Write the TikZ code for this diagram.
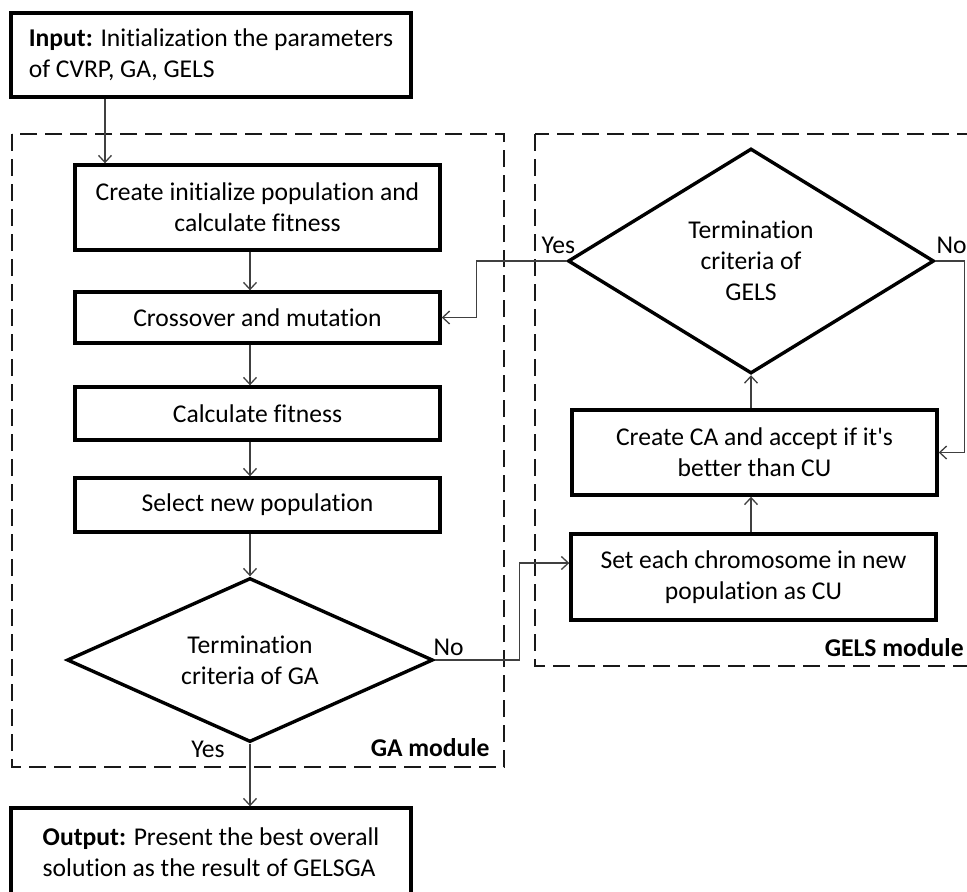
\documentclass[tikz,border=0pt]{standalone}
\usepackage{fontspec}
\setmainfont{Carlito}[Ligatures=NoCommon]
\usetikzlibrary{arrows.meta,positioning,shapes.geometric,calc}

\begin{document}
\begin{tikzpicture}[x=0.5pt, y=-0.5pt,
  %% ── Node styles ──────────────────────────────────────────────────────────
  %% one unit = one pixel of the 967 x 891 frame, y runs downwards
  box/.style={draw=black, line width=1.7pt, minimum width=182.5pt,
              inner sep=0pt, align=center, font=\fontsize{12.8}{15.5}\selectfont},
  iobox/.style={box, minimum width=200pt, minimum height=42pt, align=left},
  dec/.style={draw=black, diamond, line width=1.7pt, inner sep=0pt,
              align=center, font=\fontsize{12.8}{15.5}\selectfont},
  lbl/.style={font=\fontsize{12.8}{14}\selectfont, inner sep=0pt},
  modlbl/.style={font=\fontsize{12.8}{14}\selectfont\bfseries, inner sep=0pt},
  %% ── Frame and arrow styles ───────────────────────────────────────────────
  module/.style={draw=black!90, line width=1.3pt, dash pattern=on 8.5pt off 4pt},
  arr/.style={-{Straight Barb[length=3.5pt,width=6.5pt]}, line width=0.65pt, black!75}
]
\useasboundingbox (0,0) rectangle (967,891);

%% ── Module frames (manually bounded) ────────────────────────────────────────
\draw[module] (12,134) rectangle (504,767);
\draw[module] (535,134) rectangle (985,666);

%% ── Input / Output ──────────────────────────────────────────────────────────
\node[iobox] (inp) at (211,55) {\textbf{Input:} Initialization the parameters\\of CVRP, GA, GELS};
\node[iobox, minimum height=44pt] (out) at (211,852) {\textbf{Output:} Present the best overall\\solution as the result of GELSGA};

%% ── GA module ───────────────────────────────────────────────────────────────
\node[box, minimum height=42.5pt] (create) at (257.5,207.5) {Create initialize population and\\calculate fitness};
\node[box, minimum height=25.5pt] (cross)  at (257.5,317.5) {Crossover and mutation};
\node[box, minimum height=26.5pt] (calc)   at (257.5,413.5) {Calculate fitness};
\node[box, minimum height=27pt]   (select) at (257.5,505)   {Select new population};
\node[dec, aspect=2.23, minimum width=183pt, minimum height=82pt] (gadec) at (250,660) {Termination\\criteria of GA};

%% ── GELS module ─────────────────────────────────────────────────────────────
\node[dec, aspect=1.63, minimum width=183pt, minimum height=112.5pt] (gelsdec) at (751,261) {Termination\\criteria of\\GELS};
\node[box, minimum height=42.5pt] (ca)  at (754.5,452.5) {Create CA and accept if it\textquotesingle s\\better than CU};
\node[box, minimum height=43pt]   (set) at (753.5,577)   {Set each chromosome in new\\population as CU};

%% ── Labels ──────────────────────────────────────────────────────────────────
\node[lbl] (yesgels) at ([xshift=-4pt,yshift=8pt]gelsdec.west) {Yes};
\node[lbl] (nogels)  at ([xshift=8pt,yshift=8pt]gelsdec.east)  {No};
\node[lbl] (noga)    at ([xshift=7pt,yshift=6.5pt]gadec.east)  {No};
\node[lbl] (yesga)   at ([xshift=-21pt,yshift=-3pt]gadec.south) {Yes};
\node[modlbl, anchor=east] (galbl)   at (490,748) {GA module};
\node[modlbl, anchor=east] (gelslbl) at (964,648) {GELS module};

%% ── Arrows: main GA flow ────────────────────────────────────────────────────
\draw[arr] ([xshift=-53pt]inp.south) -- ([xshift=-53pt]inp.south |- create.north);
\draw[arr] (create.south -| gadec.north) -- (cross.north -| gadec.north);
\draw[arr] (cross.south -| gadec.north)  -- (calc.north -| gadec.north);
\draw[arr] (calc.south -| gadec.north)   -- (select.north -| gadec.north);
\draw[arr] (select.south -| gadec.north) -- (gadec.north);
\draw[arr] (gadec.south) -- (gadec.south |- out.north);

%% ── Arrows: GA -> GELS and back ─────────────────────────────────────────────
\draw[arr] (gadec.east) -- ++(85,0) |- ([yshift=7pt]set.west);
\draw[arr] (set.north -| gelsdec.south) -- (ca.south -| gelsdec.south);
\draw[arr] (ca.north -| gelsdec.south) -- (gelsdec.south);
\draw[arr] (gelsdec.east) -- ++(29,0) |- (ca.east);
\draw[arr] (gelsdec.west) -- ++(-90,0) |- (cross.east);

\end{tikzpicture}
\end{document}
